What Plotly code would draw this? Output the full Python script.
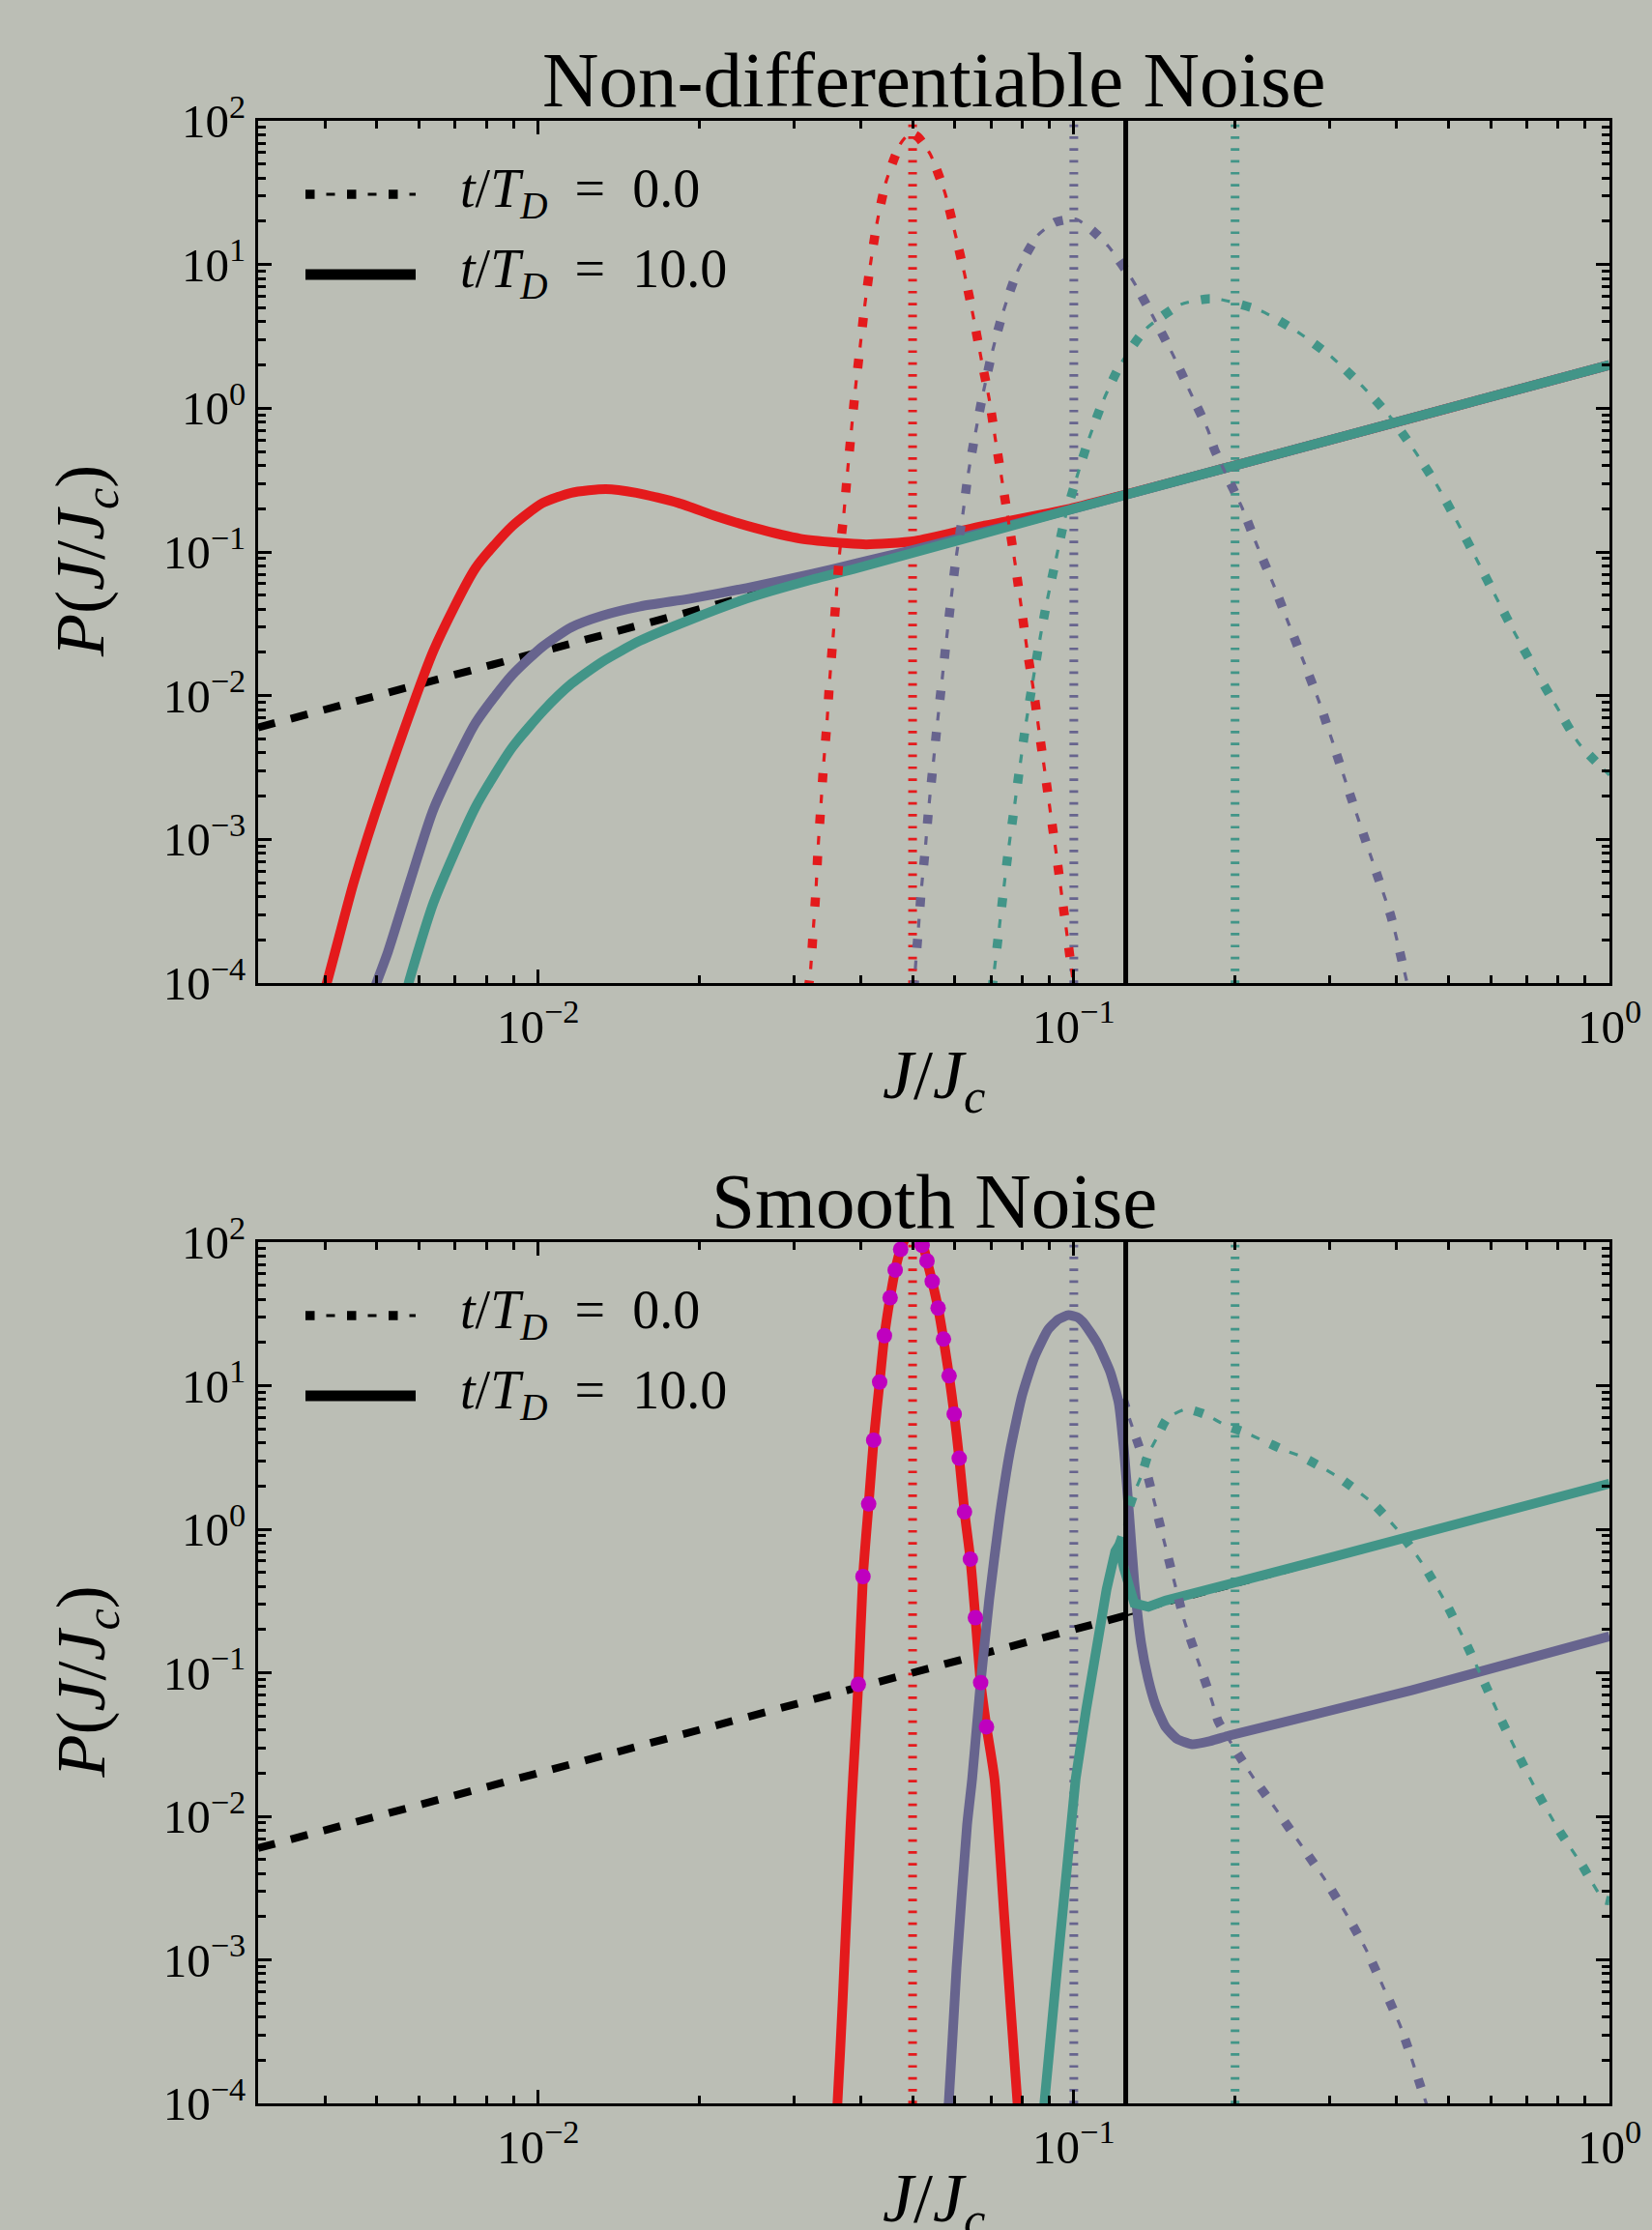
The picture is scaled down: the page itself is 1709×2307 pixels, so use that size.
import numpy as np
import plotly.graph_objects as go

W, H = 1709, 2307
BG = "#BBBEB5"
RED = "#E41A1C"
PURPLE = "#67648E"
TEAL = "#429588"
MAGENTA = "#BF00BF"
FONT = "Liberation Serif"

# ---------------- data ----------------
J0_values = [0.05, 0.1, 0.2]
J0_colors = [RED, PURPLE, TEAL]
J_lc = 0.125

# isotropic reference P = 2J
iso_J_low = [0.003, 0.125]
iso_P_low = [0.006, 0.25]
iso_J_high = [0.125, 1.0]
iso_P_high = [0.25, 2.0]

# ---- top panel: non-differentiable noise ----
nd_red_t0_J = [0.0319, 0.0322, 0.0326, 0.0330, 0.0333, 0.0337, 0.0341, 0.0346, 0.0350, 0.0355, 0.0360,
               0.0365, 0.0372, 0.0378, 0.0391, 0.0399, 0.0407, 0.0417, 0.0429, 0.0446, 0.0475, 0.0495,
               0.0512, 0.0540, 0.0575, 0.0601, 0.0626, 0.0649, 0.0671, 0.0695, 0.0714, 0.0735, 0.0777,
               0.0797, 0.0817, 0.0840, 0.0861, 0.0883, 0.0905, 0.0928, 0.0950, 0.0973, 0.0996, 0.1002]
nd_red_t0_P = [0.9e-4, 1.15e-4, 2.24e-4, 4.39e-4, 8.6e-4, 0.00168, 0.00329, 0.00643, 0.0126, 0.0246, 0.0482,
               0.0942, 0.182, 0.360, 1.36, 2.66, 5.14, 9.95, 19.4, 37.5, 69.7, 82.0,
               77.0, 58.2, 31.3, 16.2, 8.4, 4.36, 2.25, 1.16, 0.604, 0.309, 0.0828,
               0.0423, 0.0216, 0.0112, 0.00571, 0.00295, 0.00151, 7.8e-4, 4.0e-4, 2.06e-4, 1.06e-4, 0.9e-4]

nd_pur_t0_J = [0.0503, 0.0505, 0.0512, 0.0519, 0.0528, 0.0536, 0.0546, 0.0556, 0.0567, 0.0578, 0.0590,
               0.0603, 0.0620, 0.0635, 0.0655, 0.0678, 0.0705, 0.0739, 0.0785, 0.0857, 0.0923, 0.101,
               0.109, 0.116, 0.129, 0.1408, 0.153, 0.165, 0.178, 0.183, 0.206, 0.220, 0.236, 0.252,
               0.269, 0.287, 0.322, 0.361, 0.391, 0.419]
nd_pur_t0_P = [0.9e-4, 1.15e-4, 2.24e-4, 4.39e-4, 8.55e-4, 0.00166, 0.00326, 0.00634, 0.0124, 0.024, 0.0467,
               0.0918, 0.179, 0.347, 0.670, 1.30, 2.50, 4.75, 8.97, 16.0, 19.7, 20.7,
               16.9, 13.4, 7.69, 4.29, 2.37, 1.29, 0.705, 0.517, 0.204, 0.110, 0.0592, 0.0315,
               0.0170, 0.00908, 0.0025, 7.06e-4, 2.9e-4, 1.0e-4]

nd_teal_t0_J = [0.0703, 0.0709, 0.0724, 0.0739, 0.0755, 0.0774, 0.0793, 0.0813, 0.0837, 0.0862, 0.0891,
                0.0925, 0.0962, 0.101, 0.1067, 0.1136, 0.1226, 0.1365, 0.1585, 0.178, 0.1884, 0.2239,
                0.2625, 0.3038, 0.3465, 0.3914, 0.4337, 0.4786, 0.5215, 0.5665, 0.6157, 0.669, 0.730,
                0.799, 0.878, 1.0]
nd_teal_t0_P = [0.9e-4, 1.15e-4, 2.24e-4, 4.35e-4, 8.46e-4, 0.00165, 0.00321, 0.0062, 0.0121, 0.0234, 0.0453,
                0.0871, 0.170, 0.320, 0.613, 1.14, 2.06, 3.58, 5.28, 5.77, 5.70, 4.75,
                3.37, 2.25, 1.41, 0.853, 0.499, 0.283, 0.158, 0.0871, 0.0476, 0.0263, 0.0147,
                0.00824, 0.00462, 0.0028]

nd_red_t10_J = [0.00395, 0.00403, 0.00452, 0.00515, 0.00638, 0.00764, 0.00894, 0.01019, 0.01153, 0.01337,
                0.01525, 0.01827, 0.02154, 0.02537, 0.0309, 0.0377, 0.0410, 0.0505, 0.0666, 0.0982,
                0.2, 0.5, 1.0]
nd_red_t10_P = [0.8e-4, 1.0e-4, 4.94e-4, 0.00228, 0.0207, 0.0773, 0.151, 0.219, 0.258, 0.274,
                0.258, 0.219, 0.1766, 0.147, 0.1236, 0.1148, 0.1128, 0.119, 0.150, 0.200,
                0.40, 1.0, 2.0]

nd_pur_t10_J = [0.00490, 0.00499, 0.00524, 0.00578, 0.00638, 0.00764, 0.00894, 0.0102, 0.01153, 0.01316,
                0.0155, 0.0192, 0.0245, 0.0325, 0.0394, 0.05, 0.1, 1.0]
nd_pur_t10_P = [0.8e-4, 1.0e-4, 1.64e-4, 5.26e-4, 0.00163, 0.00645, 0.0139, 0.022, 0.0299, 0.036,
                0.0418, 0.0473, 0.0561, 0.0703, 0.0836, 0.103, 0.2, 2.0]

nd_teal_t10_J = [0.00565, 0.00573, 0.00638, 0.00764, 0.00894, 0.01028, 0.01153, 0.01316, 0.0155, 0.0192,
                 0.0245, 0.0325, 0.0394, 0.1, 1.0]
nd_teal_t10_P = [0.8e-4, 1.0e-4, 3.64e-4, 0.00168, 0.00435, 0.00802, 0.01208, 0.0172, 0.0241, 0.0337,
                 0.0473, 0.0643, 0.0772, 0.2, 2.0]

# ---- bottom panel: smooth noise ----
s_red_t10_J = [0.0360, 0.0362, 0.0370, 0.0383, 0.0387, 0.0396, 0.0404, 0.0414, 0.0423, 0.0434, 0.0443,
               0.0454, 0.0464, 0.0475, 0.0497, 0.0523, 0.0532, 0.0544, 0.0558, 0.0571, 0.0585, 0.0598,
               0.0611, 0.0625, 0.0641, 0.0655, 0.0670, 0.0687, 0.0711, 0.0741, 0.0785, 0.0790]
s_red_t10_P = [0.8e-4, 1.0e-4, 4.98e-4, 0.0087, 0.0183, 0.083, 0.468, 1.50, 4.17, 10.6, 22.3,
               41.0, 63.9, 89.0, 125.0, 94.0, 74.0, 53.2, 34.7, 21.1, 11.7, 6.34,
               3.12, 1.32, 0.619, 0.242, 0.0854, 0.042, 0.0183, 0.00208, 1.0e-4, 0.8e-4]

s_dots_J = [0.0396, 0.0404, 0.0414, 0.0423, 0.0434, 0.0443, 0.0454, 0.0464, 0.0475,
            0.0521, 0.0532, 0.0544, 0.0558, 0.0571, 0.0585, 0.0598, 0.0611, 0.0625, 0.0641,
            0.0655, 0.0670, 0.0687]
s_dots_P = [0.083, 0.468, 1.50, 4.17, 10.6, 22.3, 41.0, 63.9, 89.0,
            95.0, 74.0, 53.2, 34.7, 21.1, 11.7, 6.34, 3.12, 1.32, 0.619,
            0.242, 0.0854, 0.042]

s_pur_t10_J = [0.0580, 0.0584, 0.0604, 0.0632, 0.0646, 0.0670, 0.0695, 0.0727, 0.0760, 0.0800, 0.0843,
               0.0895, 0.0936, 0.0978, 0.1015, 0.1038, 0.1073, 0.1109, 0.1169, 0.1213, 0.1241, 0.1268,
               0.1297, 0.1336, 0.1375, 0.1420, 0.1483, 0.1560, 0.1663, 0.1800, 0.1936, 0.4273, 1.0]
s_pur_t10_P = [0.8e-4, 1.0e-4, 8.8e-4, 0.0087, 0.0183, 0.0854, 0.322, 1.22, 3.49, 8.46, 15.6,
               24.5, 29.0, 31.0, 30.0, 28.0, 23.6, 19.4, 12.5, 7.57, 3.49, 1.29,
               0.426, 0.160, 0.092, 0.060, 0.042, 0.0345, 0.0318, 0.0335, 0.0362, 0.0755, 0.1795]

s_teal_t10_J = [0.0877, 0.0881, 0.0931, 0.0986, 0.1008, 0.1054, 0.1102, 0.1151, 0.1195, 0.1213, 0.1241,
                0.1268, 0.1297, 0.1378, 0.1483, 0.306, 1.0]
s_teal_t10_P = [0.8e-4, 1.0e-4, 8.8e-4, 0.0087, 0.0183, 0.0548, 0.157, 0.380, 0.700, 0.769, 0.531,
                0.380, 0.305, 0.288, 0.318, 0.644, 2.08]

s_pur_t0_J = [0.1236, 0.1268, 0.1346, 0.141, 0.1474, 0.154, 0.161, 0.1707, 0.181, 0.186, 0.2145, 0.238,
              0.2645, 0.2928, 0.322, 0.3516, 0.379, 0.409, 0.455, 0.46]
s_pur_t0_P = [8.1, 6.0, 3.12, 1.61, 0.826, 0.432, 0.227, 0.120, 0.0638, 0.0461, 0.0195, 0.0113,
              0.00645, 0.00373, 0.00211, 0.00117, 6.35e-4, 3.3e-4, 1.0e-4, 0.9e-4]

s_teal_t0_J = [0.1213, 0.1234, 0.1259, 0.1297, 0.1339, 0.1376, 0.1435, 0.1493, 0.162, 0.177, 0.192,
               0.2085, 0.2263, 0.2455, 0.268, 0.289, 0.313, 0.3614, 0.4074, 0.4536, 0.4963, 0.5386,
               0.5807, 0.6259, 0.678, 0.7345, 0.8035, 0.887, 0.9737, 1.0]
s_teal_t0_P = [0.769, 0.93, 1.29, 1.79, 2.39, 3.30, 4.47, 5.9, 6.85, 6.24, 5.28,
               4.73, 4.12, 3.59, 3.17, 2.72, 2.28, 1.52, 0.933, 0.533, 0.300, 0.163,
               0.0893, 0.0482, 0.0261, 0.0145, 0.00807, 0.00462, 0.00264, 0.00258]

y_limits = [1e-4, 1e2]
legend_labels = ["<i>t</i>/<i>T</i><sub><i>D</i></sub>\u00a0\u00a0=\u00a0\u00a00.0",
                 "<i>t</i>/<i>T</i><sub><i>D</i></sub>\u00a0\u00a0=\u00a0\u00a010.0"]
titles = ["Non-differentiable Noise", "Smooth Noise"]

# ---------------- styling ----------------
THICK_DASH = "9.5px,33.5px"
THIN_DASH = "0px,21.5px,9px,12.5px"
VDOT = "2.7px,9.6px"
SOLID_W = 10

fig = go.Figure()


def axes_of(panel):
    return ("x", "y") if panel == 1 else ("x2", "y2")


def add_line(J, P, color, width, dash, panel, shape="linear", smoothing=1.0):
    xa, ya = axes_of(panel)
    line = dict(color=color, width=width, dash=dash, shape=shape)
    if shape == "spline":
        line["smoothing"] = smoothing
    fig.add_trace(go.Scatter(x=J, y=P, mode="lines", xaxis=xa, yaxis=ya, line=line,
                             showlegend=False, hoverinfo="skip"))


def add_dashdot(J, P, color, panel, shape="spline"):
    add_line(J, P, color, 9.5, THICK_DASH, panel, shape, 0.6)
    add_line(J, P, color, 3.2, THIN_DASH, panel, shape, 0.6)


for panel in (1, 2):
    for j0, c in zip(J0_values, J0_colors):
        add_line([j0, j0], y_limits, c, 9, VDOT, panel)
    add_line(iso_J_low, iso_P_low, "black", 8, "18px,17px", panel)
    add_line(iso_J_high, iso_P_high, "black", 2, "14px,10px", panel)

# top panel curves
add_line(nd_red_t10_J, nd_red_t10_P, RED, SOLID_W, "solid", 1, "spline", 0.6)
add_line(nd_pur_t10_J, nd_pur_t10_P, PURPLE, SOLID_W, "solid", 1, "spline", 0.6)
add_line(nd_teal_t10_J, nd_teal_t10_P, TEAL, SOLID_W, "solid", 1, "spline", 0.6)
add_dashdot(nd_red_t0_J, nd_red_t0_P, RED, 1)
add_dashdot(nd_pur_t0_J, nd_pur_t0_P, PURPLE, 1)
add_dashdot(nd_teal_t0_J, nd_teal_t0_P, TEAL, 1)

# bottom panel curves
add_line(s_red_t10_J, s_red_t10_P, RED, SOLID_W, "solid", 2, "spline", 0.6)
add_line(s_pur_t10_J, s_pur_t10_P, PURPLE, SOLID_W, "solid", 2, "spline", 0.5)
add_line(s_teal_t10_J, s_teal_t10_P, TEAL, SOLID_W, "solid", 2, "linear")
add_dashdot(s_pur_t0_J, s_pur_t0_P, PURPLE, 2)
add_dashdot(s_teal_t0_J, s_teal_t0_P, TEAL, 2)
fig.add_trace(go.Scatter(x=s_dots_J, y=s_dots_P, mode="markers", xaxis="x2", yaxis="y2",
                         marker=dict(color=MAGENTA, size=16, line=dict(width=0)),
                         showlegend=False, hoverinfo="skip"))

for panel in (1, 2):
    add_line([J_lc, J_lc], y_limits, "black", 5, "solid", panel)

# ---------------- axes ----------------
def sup(e):
    return "10<sup>" + (str(e) if e >= 0 else "\u2212" + str(-e)) + "</sup>"


x_major = [0.01, 0.1, 1.0]
x_major_text = [sup(-2), sup(-1), sup(0)]
x_minor = [k * 10.0 ** e for e in (-3, -2, -1) for k in range(2, 10) if k * 10.0 ** e >= 0.003]
y_major = [10.0 ** e for e in range(-4, 3)]
y_major_text = [sup(e) for e in range(-4, 3)]
y_minor = [k * 10.0 ** e for e in range(-4, 2) for k in range(2, 10)]

tickfont = dict(family=FONT, size=49, color="black")
common = dict(type="log", showline=True, linecolor="black", linewidth=3, mirror="ticks",
              ticks="inside", ticklen=14, tickwidth=2.5, tickcolor="black", automargin=False,
              showgrid=False, zeroline=False, tickfont=tickfont)


def px(x):
    return x / W


def py(y):
    return 1 - y / H


xdom = [px(267), px(1665)]
top_dom = [py(1017), py(125)]
bot_dom = [py(2176), py(1285)]

xa = dict(common, range=[np.log10(0.003), 0], tickmode="array", tickvals=x_major, ticktext=x_major_text,
          minor=dict(tickmode="array", tickvals=x_minor, ticks="inside", ticklen=8, tickwidth=2.5,
                     tickcolor="black", showgrid=False), domain=xdom)
ya = dict(common, range=[-4, 2], tickmode="array", tickvals=y_major, ticktext=y_major_text,
          minor=dict(tickmode="array", tickvals=y_minor, ticks="inside", ticklen=8, tickwidth=2.5,
                     tickcolor="black", showgrid=False))

fig.update_layout(
    width=W, height=H, margin=dict(l=0, r=0, t=0, b=0, autoexpand=False),
    paper_bgcolor=BG, plot_bgcolor=BG, showlegend=False,
    xaxis=dict(xa, anchor="y"),
    yaxis=dict(ya, anchor="x", domain=top_dom),
    xaxis2=dict(xa, anchor="y2"),
    yaxis2=dict(ya, anchor="x2", domain=bot_dom),
)

# ---------------- text & legend ----------------
ann = []
shapes = []
panel_tops = [125, 1285]
panel_bottoms = [1017, 2176]
xlabel_offsets = [100, 103]
for i in range(2):
    top = panel_tops[i]
    bot = panel_bottoms[i]
    ann.append(dict(text=titles[i], x=px(966), y=py(top - 42), xref="paper", yref="paper",
                    xanchor="center", yanchor="middle", showarrow=False,
                    font=dict(family=FONT, size=81, color="black")))
    ann.append(dict(text="<i>J</i>/<i>J</i><sub><i>c</i></sub>", x=px(966), y=py(bot + xlabel_offsets[i]),
                    xref="paper", yref="paper", xanchor="center", yanchor="middle", showarrow=False,
                    font=dict(family=FONT, size=72, color="black")))
    ann.append(dict(text="<i>P</i>(<i>J</i>/<i>J</i><sub><i>c</i></sub>)", x=px(88),
                    y=py((top + bot) / 2 + 10), xref="paper", yref="paper", textangle=-90,
                    xanchor="center", yanchor="middle", showarrow=False,
                    font=dict(family=FONT, size=72, color="black")))
    for r, (lab, dy) in enumerate(zip(legend_labels, (76, 159))):
        yl = top + dy
        ann.append(dict(text=lab, x=px(474), y=py(yl - 2), xref="paper", yref="paper",
                        xanchor="left", yanchor="middle", showarrow=False,
                        font=dict(family=FONT, size=56, color="black")))
        if r == 0:
            shapes.append(dict(type="line", xref="paper", yref="paper", x0=px(316), x1=px(430),
                               y0=py(yl), y1=py(yl), line=dict(color="black", width=9.5, dash=THICK_DASH)))
            shapes.append(dict(type="line", xref="paper", yref="paper", x0=px(316), x1=px(430),
                               y0=py(yl), y1=py(yl), line=dict(color="black", width=3.2, dash=THIN_DASH)))
        else:
            shapes.append(dict(type="line", xref="paper", yref="paper", x0=px(316), x1=px(430),
                               y0=py(yl), y1=py(yl), line=dict(color="black", width=11)))

fig.update_layout(annotations=ann, shapes=shapes)
fig.write_html("out.html")
